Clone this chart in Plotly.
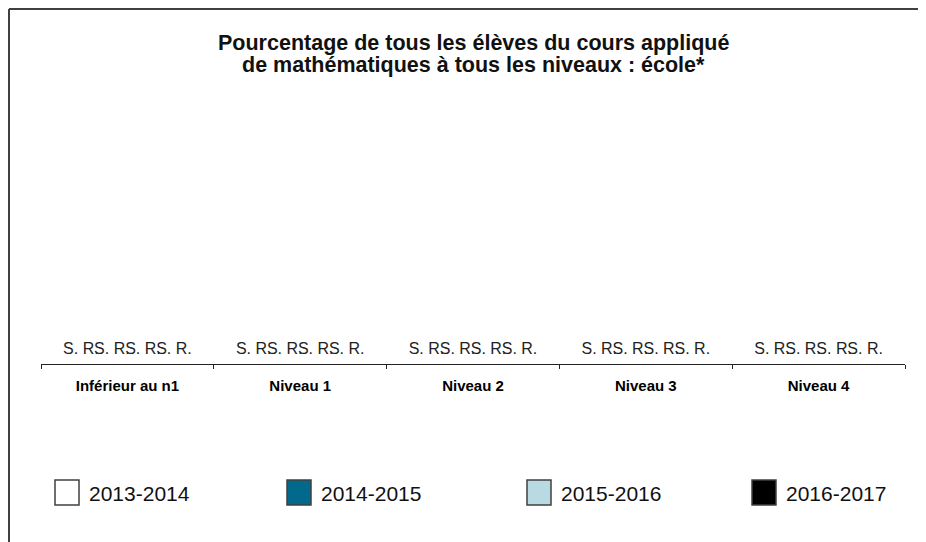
import plotly.graph_objects as go

categories = ["Inférieur au n1", "Niveau 1", "Niveau 2", "Niveau 3", "Niveau 4"]
series_names = ["2013-2014", "2014-2015", "2015-2016", "2016-2017"]
# Data suppressed ("S. R.") for every category / year
values = {
    "2013-2014": [0, 0, 0, 0, 0],
    "2014-2015": [0, 0, 0, 0, 0],
    "2015-2016": [0, 0, 0, 0, 0],
    "2016-2017": [0, 0, 0, 0, 0],
}
labels = {
    "2013-2014": ["S. R."] * 5,
    "2014-2015": ["S. R."] * 5,
    "2015-2016": ["S. R."] * 5,
    "2016-2017": ["S. R."] * 5,
}
colors = ["#FFFFFF", "#00698C", "#B9D9E3", "#000000"]
title_lines = ["Pourcentage de tous les élèves du cours appliqué",
               "de mathématiques à tous les niveaux : école*"]

# page body adds an 8px offset; layout coordinates below are in page pixels
OFF = 8
W, H = 926, 542
ML, MR, MT, MB = 41 - OFF, 926 - (905 - OFF), 92, 542 - (364 - OFF)
PW, PH = W - ML - MR, H - MT - MB


def px(xp):
    return (xp - OFF - ML) / PW


def py(yp):
    return (H - MB - (yp - OFF)) / PH


FONT = "Liberation Sans, Arial"

fig = go.Figure()
for name, col in zip(series_names, colors):
    fig.add_trace(go.Bar(
        x=categories, y=values[name], name=name,
        marker=dict(color=col, line=dict(width=0)),
        text=labels[name], textposition="outside", cliponaxis=False,
        constraintext="none",
        textfont=dict(family=FONT, size=16, color="#222222"),
        showlegend=False,
    ))

shapes = []
annotations = []
# title (two lines, tight line spacing as in the original)
for txt, yc in zip(title_lines, [43.5, 65]):
    annotations.append(dict(xref="paper", yref="paper", x=0.5, y=py(yc),
                            xanchor="center", yanchor="middle", showarrow=False,
                            text=txt,
                            font=dict(family=FONT, size=21.5, color="#111111", weight="bold")))
# custom legend (large swatches)
leg_x = [55, 287, 527, 752]
for i, (name, col) in enumerate(zip(series_names, colors)):
    x0 = leg_x[i]
    shapes.append(dict(type="rect", xref="paper", yref="paper",
                       x0=px(x0), x1=px(x0 + 24), y0=py(505), y1=py(480),
                       fillcolor=col, line=dict(color="#404040", width=1.5)))
    annotations.append(dict(xref="paper", yref="paper", x=px(x0 + 32), y=py(493.5),
                            xanchor="left", yanchor="middle", showarrow=False,
                            text=name,
                            font=dict(family=FONT, size=21, color="#111111")))
# outer frame (partially visible)
shapes.append(dict(type="line", xref="paper", yref="paper",
                   x0=px(9), x1=px(W + 20), y0=py(9), y1=py(9),
                   line=dict(color="#404040", width=2)))
shapes.append(dict(type="line", xref="paper", yref="paper",
                   x0=px(9), x1=px(9), y0=py(9), y1=py(H + 20),
                   line=dict(color="#404040", width=2)))

fig.update_layout(
    width=W, height=H,
    margin=dict(l=ML, r=MR, t=MT, b=MB),
    paper_bgcolor="white", plot_bgcolor="white",
    barmode="group", bargap=0.282, bargroupgap=0,
    xaxis=dict(showline=True, linecolor="#222222", linewidth=1,
               ticks="outside", tickson="boundaries", ticklen=4, tickcolor="#222222",
               showgrid=False, zeroline=False, ticklabelstandoff=8,
               tickfont=dict(family=FONT, size=15, color="#000000", weight="bold")),
    yaxis=dict(visible=False, range=[-1.5, 100]),
    shapes=shapes, annotations=annotations,
)

fig.write_html("out.html")
